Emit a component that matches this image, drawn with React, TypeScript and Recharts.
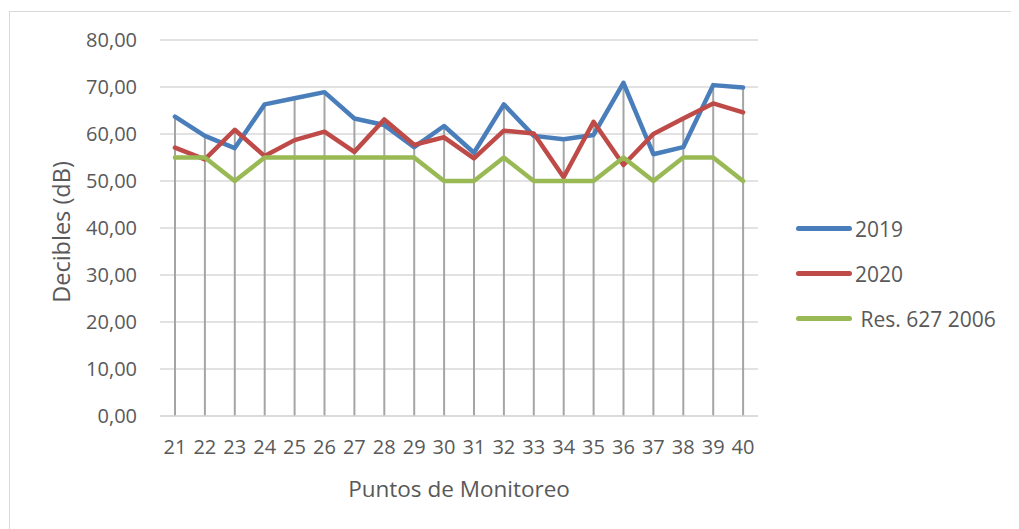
import React from 'react';
import { ComposedChart, Line, Bar, XAxis, YAxis, CartesianGrid, Legend, Label } from 'recharts';

// Puntos de monitoreo (eje X)
const puntos = ['21', '22', '23', '24', '25', '26', '27', '28', '29', '30',
  '31', '32', '33', '34', '35', '36', '37', '38', '39', '40'];

// Niveles de ruido (dB)
const valores2019 = [63.7, 59.6, 57.0, 66.3, 67.6, 68.9, 63.3, 61.9, 57.2, 61.7,
  56.0, 66.3, 59.6, 58.9, 59.8, 70.9, 55.7, 57.2, 70.4, 69.9];
const valores2020 = [57.1, 54.6, 60.9, 55.3, 58.7, 60.5, 56.2, 63.1, 57.7, 59.3,
  54.8, 60.7, 60.1, 50.8, 62.6, 53.4, 60.0, 63.3, 66.5, 64.6];
const norma = [55, 55, 50, 55, 55, 55, 55, 55, 55, 50,
  50, 55, 50, 50, 50, 55, 50, 55, 55, 50];

const yTicks = [0, 10, 20, 30, 40, 50, 60, 70, 80];

const series = [
  { key: 'v2019', name: '2019', color: '#4a7ebb' },
  { key: 'v2020', name: '2020', color: '#be4b48' },
  { key: 'res', name: ' Res. 627 2006', color: '#98b954' },
];

// la línea gris vertical va desde el valor más alto hasta el eje
const data = puntos.map((p, i) => ({
  punto: p,
  v2019: valores2019[i],
  v2020: valores2020[i],
  res: norma[i],
  tope: Math.max(valores2019[i], valores2020[i], norma[i]),
}));

const FONT = '"Open Sans", sans-serif';
const TEXTO = '#595959';

const formatoY = (v: number) => v.toFixed(2).replace('.', ',');

const LeyendaLateral = () => (
  <div style={{ fontFamily: FONT, fontSize: 21, color: TEXTO }}>
    {series.map((s) => (
      <div key={s.key} style={{ height: 45, display: 'flex', alignItems: 'center' }}>
        <span style={{ width: 56, height: 5, borderRadius: 3, background: s.color, display: 'inline-block' }} />
        <span style={{ marginLeft: 3, whiteSpace: 'pre' }}>{s.name}</span>
      </div>
    ))}
  </div>
);

const EtiquetaY = (props: any) => {
  const { viewBox } = props;
  const cy = viewBox.y + viewBox.height / 2 + 4;
  return (
    <text x={51} y={cy} transform={`rotate(-90, 51, ${cy})`} textAnchor="middle" dominantBaseline="central"
      fill={TEXTO} fontSize={23.5} fontFamily={FONT}>
      Decibles (dB)
    </text>
  );
};

const EtiquetaX = (props: any) => {
  const { viewBox } = props;
  const cx = viewBox.x + viewBox.width / 2;
  return (
    <text x={cx} y={viewBox.y + 72} textAnchor="middle" dominantBaseline="central"
      fill={TEXTO} fontSize={22.5} fontFamily={FONT}>
      Puntos de Monitoreo
    </text>
  );
};

const App: React.FC = () => (
  <div style={{ marginTop: 3, marginLeft: 1, width: 1018, height: 518, borderTop: '1px solid #d9d9d9', borderLeft: '1px solid #d9d9d9' }}>
    <ComposedChart width={1010} height={518} data={data} margin={{ top: 28, right: 262, bottom: 34, left: 0 }}>
      <CartesianGrid vertical={false} stroke="#d9d9d9" strokeWidth={1.5} />
      <XAxis dataKey="punto" height={80} tickLine={false} tickSize={0} tickMargin={24}
        axisLine={{ stroke: '#d9d9d9', strokeWidth: 1.5 }}
        tick={{ fill: TEXTO, fontSize: 20, fontFamily: FONT }} interval={0}>
        <Label content={EtiquetaX} />
      </XAxis>
      <YAxis width={150} domain={[0, 80]} ticks={yTicks} tickFormatter={formatoY}
        axisLine={false} tickLine={false} tickMargin={17}
        tick={{ fill: TEXTO, fontSize: 20, fontFamily: FONT }}>
        <Label content={EtiquetaY} />
      </YAxis>
      {series.map((s) => (
        <Line key={s.key} dataKey={s.key} name={s.name} stroke={s.color} strokeWidth={4.5}
          strokeLinejoin="round" strokeLinecap="round" dot={false} activeDot={false}
          type="linear" isAnimationActive={false} />
      ))}
      <Bar dataKey="tope" fill="#a5a5a5" barSize={2} isAnimationActive={false} legendType="none" />
      <Legend layout="horizontal" verticalAlign="middle" align="center" width={230}
        wrapperStyle={{ left: 786, top: 194 }} content={LeyendaLateral} />
    </ComposedChart>
  </div>
);

export default App;
